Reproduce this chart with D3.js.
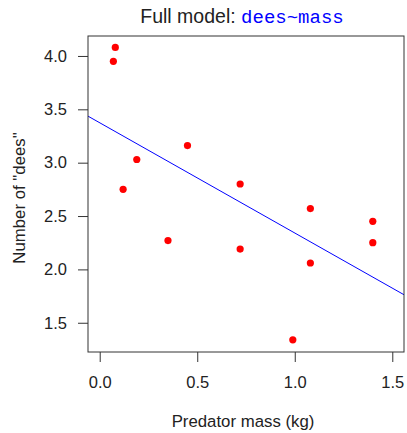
<!DOCTYPE html>
<html>
<head>
<meta charset="utf-8">
<script src="https://cdn.jsdelivr.net/npm/d3@7"></script>
<style>
  body { margin: 0; background: #fff; }
  text { font-family: "Liberation Sans", Arial, sans-serif; fill: #222; }
</style>
</head>
<body>
<div id="chart"></div>
<script>
// predator mass (kg) and number of "dees"
const mass = [0.08, 0.07, 0.12, 0.19, 0.35, 0.45, 0.72, 0.72, 0.99, 1.08, 1.08, 1.40, 1.40];
const dees = [4.08, 3.95, 2.75, 3.03, 2.27, 3.16, 2.80, 2.19, 1.34, 2.57, 2.06, 2.45, 2.25];
// fitted line dees ~ mass
const intercept = 3.374;
const slope = -1.033;
const xTicks = [0, 0.5, 1.0, 1.5];
const yTicks = [1.5, 2.0, 2.5, 3.0, 3.5, 4.0];

const width = 407;
const height = 433;
const margin = { top: 36, right: 3, bottom: 81, left: 88 };
const w = width - margin.left - margin.right;
const h = height - margin.top - margin.bottom;

const svg = d3.select('#chart').append('svg')
  .attr('width', width)
  .attr('height', height);

// R-style 4% extension of the ranges
const x = d3.scaleLinear().domain([-0.06, 1.56]).range([0, w]);
const y = d3.scaleLinear().domain([1.226, 4.187]).range([h, 0]);

const g = svg.append('g')
  .attr('transform', `translate(${margin.left}, ${margin.top})`);

// axes
const xAxis = d3.axisBottom(x).tickValues(xTicks).tickSize(10).tickPadding(14)
  .tickFormat(d3.format('.1f'));
const yAxis = d3.axisLeft(y).tickValues(yTicks).tickSize(10).tickPadding(11)
  .tickFormat(d3.format('.1f'));

const gx = g.append('g').attr('transform', `translate(0, ${h})`).call(xAxis);
const gy = g.append('g').call(yAxis);
[gx, gy].forEach((a) => {
  a.select('.domain').remove();
  a.selectAll('line').attr('stroke', '#333');
  a.selectAll('text').attr('font-size', 16.5).attr('fill', '#222')
    .attr('font-family', '"Liberation Sans", Arial, sans-serif');
});

// regression line, clipped to the box
g.append('clipPath').attr('id', 'clip')
  .append('rect').attr('width', w).attr('height', h);
g.append('line')
  .attr('clip-path', 'url(#clip)')
  .attr('x1', x(-0.06)).attr('y1', y(intercept + slope * -0.06))
  .attr('x2', x(1.56)).attr('y2', y(intercept + slope * 1.56))
  .attr('stroke', '#0000ff')
  .attr('stroke-width', 1);

// points
g.selectAll('.pt')
  .data(mass.map((m, i) => ({ m, d: dees[i] })))
  .enter().append('circle')
  .attr('class', 'pt')
  .attr('cx', (d) => x(d.m))
  .attr('cy', (d) => y(d.d))
  .attr('r', 3.6)
  .attr('fill', '#ff0000');

// box
g.append('rect')
  .attr('width', w).attr('height', h)
  .attr('fill', 'none').attr('stroke', '#333').attr('stroke-width', 1);

// title
const title = svg.append('text')
  .attr('x', margin.left + w / 2 - 4)
  .attr('y', 23)
  .attr('text-anchor', 'middle')
  .attr('font-size', 19.5);
title.append('tspan').text('Full model: ');
title.append('tspan')
  .attr('font-family', '"Liberation Mono", "DejaVu Sans Mono", monospace')
  .attr('font-size', 19)
  .style('fill', '#0000ff')
  .text('dees~mass');

// axis labels
svg.append('text')
  .attr('x', margin.left + w / 2 - 3)
  .attr('y', 427)
  .attr('text-anchor', 'middle')
  .attr('font-size', 16.8)
  .text('Predator mass (kg)');
svg.append('text')
  .attr('transform', `translate(24.5, ${margin.top + h / 2 + 4}) rotate(-90)`)
  .attr('text-anchor', 'middle')
  .attr('font-size', 16.8)
  .text('Number of "dees"');
</script>
</body>
</html>
